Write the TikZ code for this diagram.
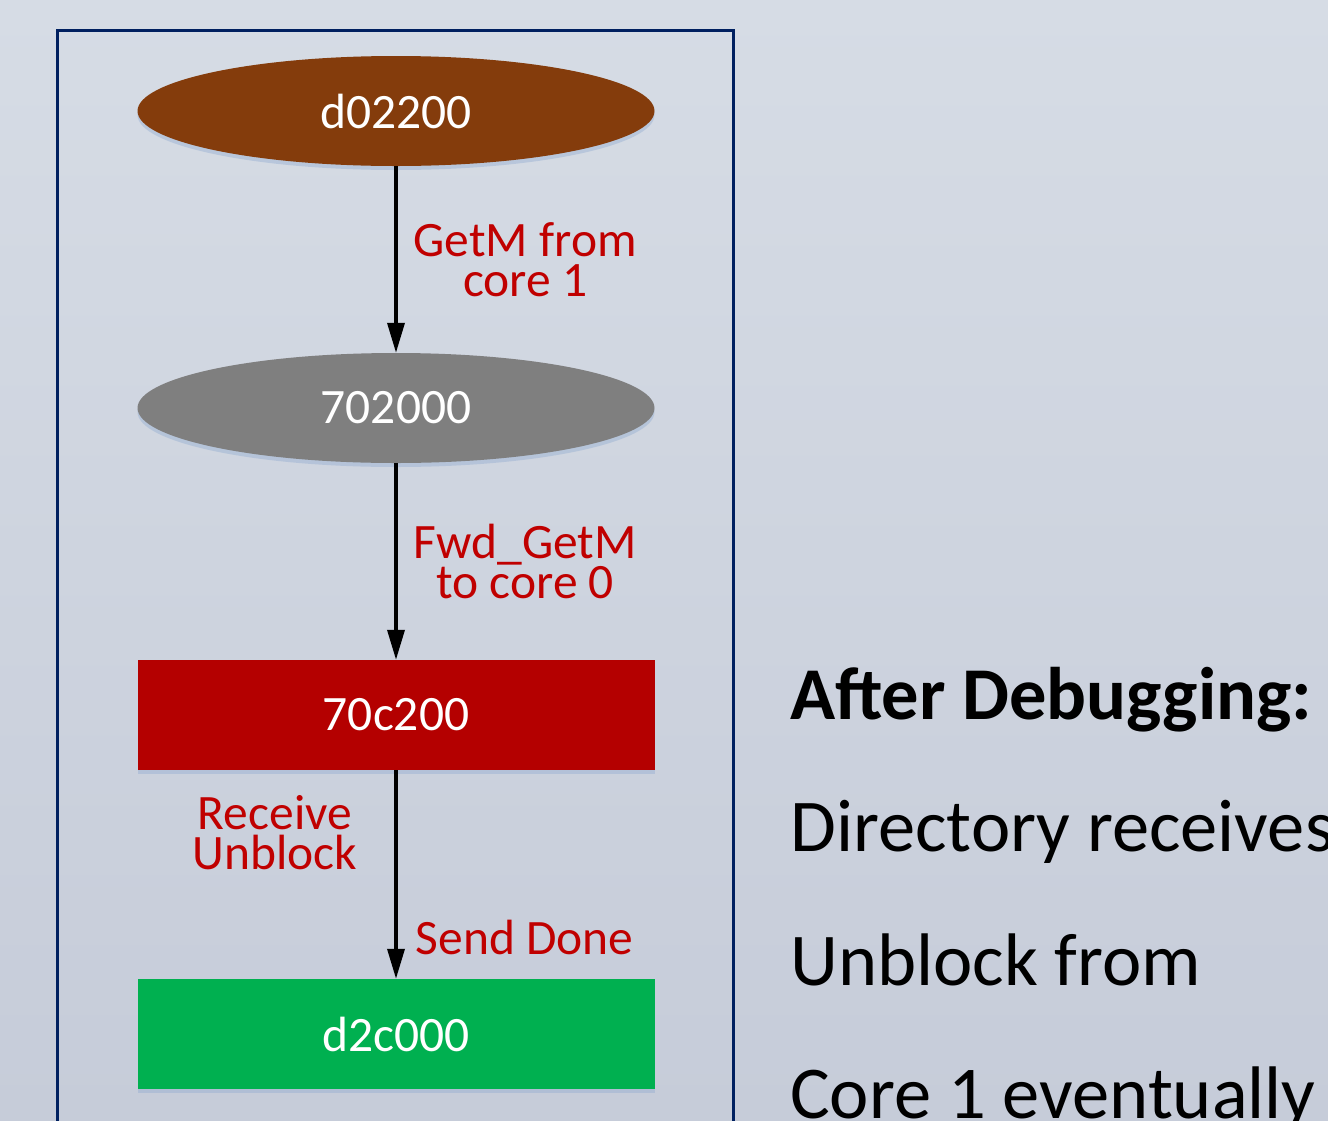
\documentclass[tikz,border=0pt]{standalone}
\usepackage{fontspec}
\setmainfont{Carlito}
\usetikzlibrary{shapes.geometric,arrows.meta,shadows}
\definecolor{bgtop}{RGB}{214,220,229}
\definecolor{bgbot}{RGB}{198,204,217}
\definecolor{framenavy}{RGB}{0,32,96}
\definecolor{dirbrown}{RGB}{132,60,12}
\definecolor{dirgray}{RGB}{127,127,127}
\definecolor{dirred}{RGB}{180,0,0}
\definecolor{dirgreen}{RGB}{0,176,80}
\definecolor{msgred}{RGB}{192,0,0}
\newcommand*{\LabelFont}{\fontsize{49.5}{40}\selectfont}
\newcommand*{\NoteFont}{\fontsize{74.5}{80}\selectfont}
\tikzset{
  glow/.style={drop shadow={shadow xshift=0pt, shadow yshift=-4pt,
      fill={rgb,255:red,150;green,175;blue,210}, opacity=0.45}},
  statenode/.style={glow, draw=none, text=white, font=\LabelFont,
      minimum width=517pt, minimum height=110pt},
  stateoval/.style={statenode, ellipse},
  statebox/.style={statenode, rectangle},
  msg/.style={text=msgred, font=\LabelFont, align=center, inner sep=0pt},
  flow/.style={line width=3.5pt, -{Triangle[length=30pt,width=17pt]}},
  note/.style={anchor=base west, inner sep=0pt, font=\NoteFont}
}

\begin{document}
\begin{tikzpicture}[x=1pt,y=-1pt]
    \clip (0,0) rectangle (1328,1120);
    \shade[top color=bgtop, bottom color=bgbot] (0,0) rectangle (1328,1120);
    % directory state graph
    \draw[framenavy, line width=3pt] (57,30) rectangle (733,1150);
    \node[stateoval, fill=dirbrown] (s1) at (396,111) {d02200};
    \node[stateoval, fill=dirgray]  (s2) at (396,408) {702000};
    \node[statebox, fill=dirred]    (s3) at (396,715) {70c200};
    \node[statebox, fill=dirgreen]  (s4) at (396,1034) {d2c000};
    \draw[flow] (s1) -- node[msg, right=16pt] {GetM from\\core 1} (s2);
    \draw[flow] (s2) -- node[msg, right=16pt] {Fwd\_GetM\\to core 0} (s3);
    \draw[flow] (s3) -- node[msg, pos=0.3, left=37pt] {Receive\\Unblock}
                        node[msg, pos=0.8, right=18pt] {Send Done} (s4);
    % notes
    \node[note] (n1) at (790,719) {\bfseries After Debugging:};
    \node[note] (n2) at (790,851) {Directory receives};
    \node[note] (n3) at (790,985) {Unblock from};
    \node[note] (n4) at (790,1118) {Core 1 eventually};
\end{tikzpicture}
\end{document}
